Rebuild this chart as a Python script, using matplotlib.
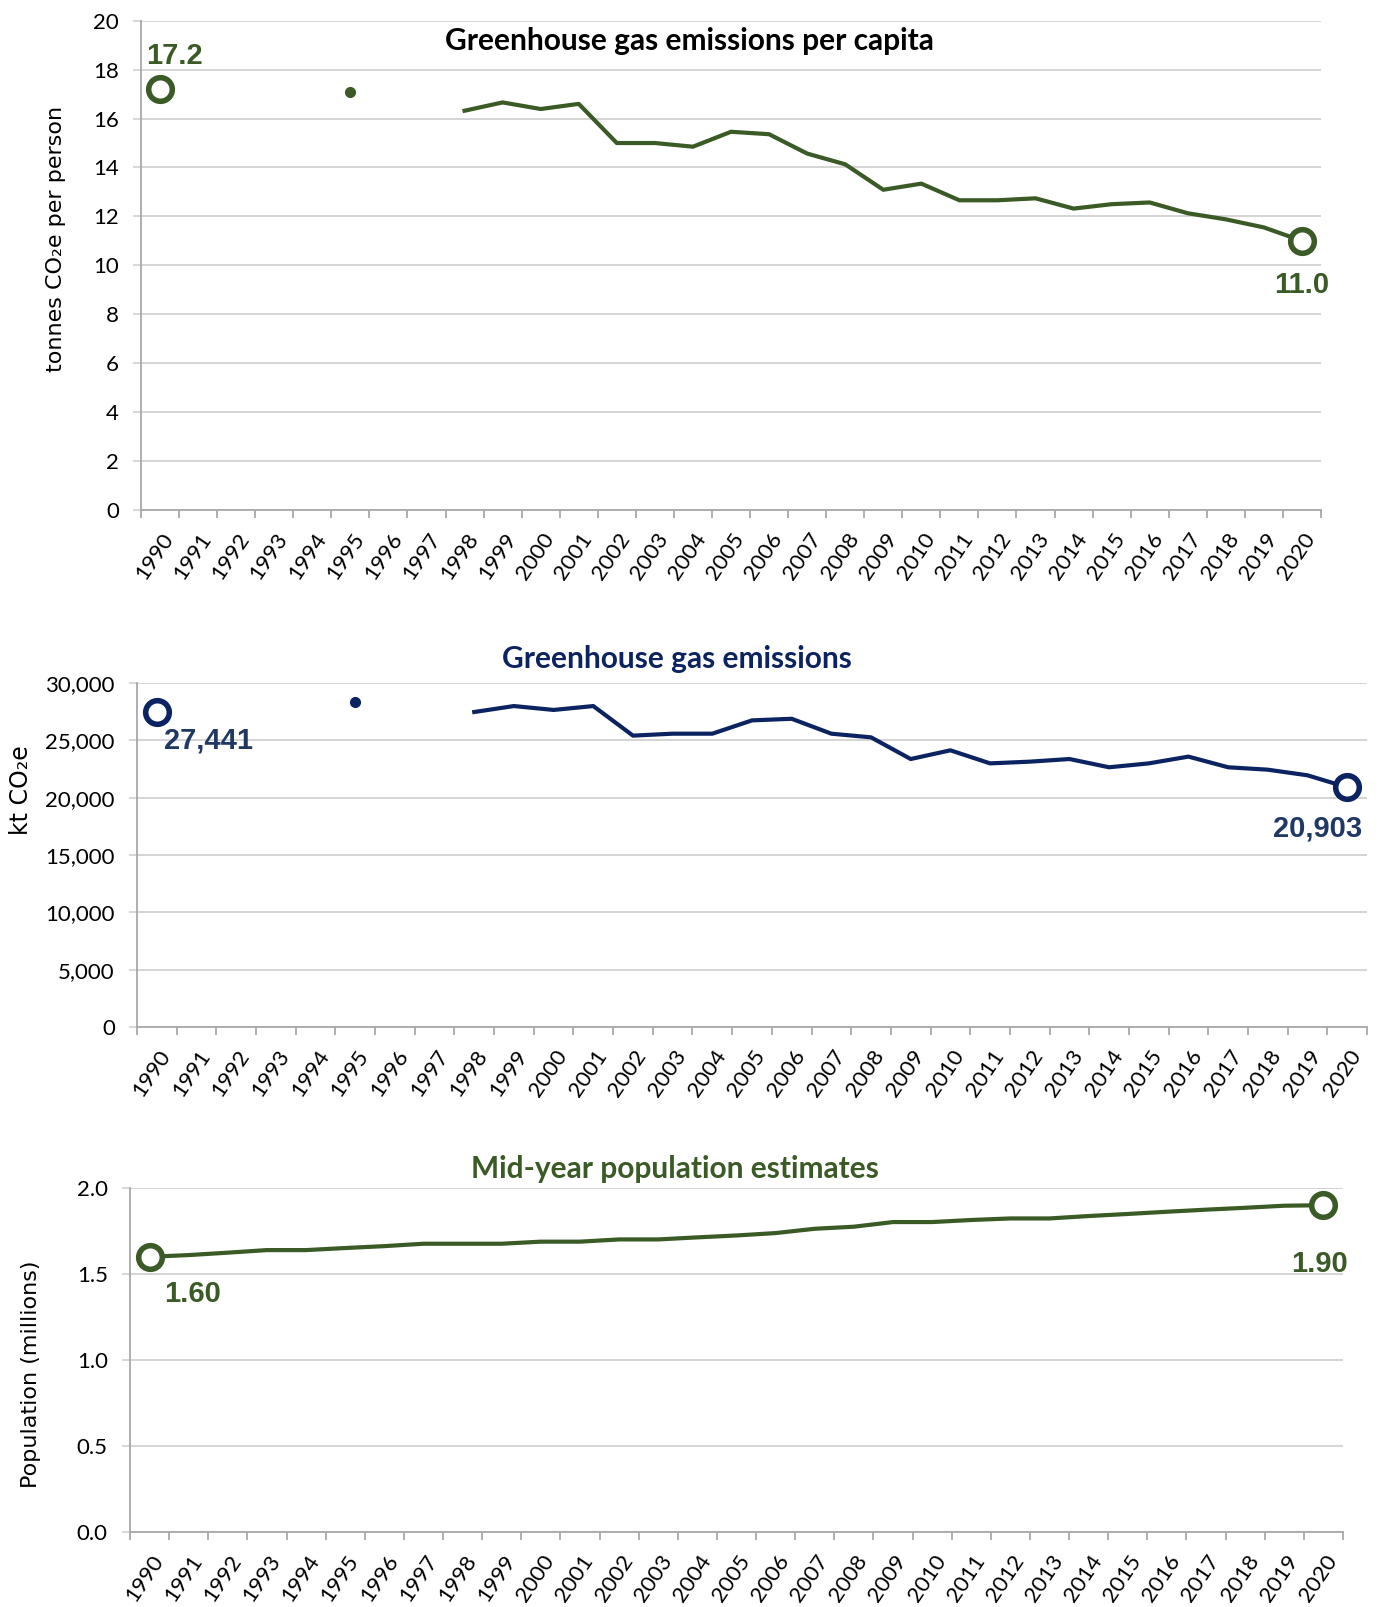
import numpy as np
import matplotlib
matplotlib.use("Agg")
from matplotlib import pyplot as plt
from matplotlib.transforms import ScaledTranslation

nan = np.nan

years = [str(y) for y in range(1990, 2021)]

# tonnes CO2e per person
ghg_per_capita = [17.2, nan, nan, nan, nan, 17.1, nan, nan, 16.32, 16.66,
                  16.39, 16.6, 15.0, 15.0, 14.85, 15.46, 15.36, 14.57, 14.13, 13.09,
                  13.34, 12.66, 12.66, 12.74, 12.32, 12.5, 12.57, 12.13, 11.88, 11.55,
                  11.0]

# kt CO2e
ghg_total = [27441, nan, nan, nan, nan, 28370, nan, nan, 27470, 27990,
             27650, 27990, 25410, 25580, 25580, 26740, 26880, 25580, 25260, 23370,
             24130, 22990, 23140, 23370, 22650, 22990, 23580, 22650, 22440, 21950,
             20903]

# millions
population = [1.60, 1.61, 1.624, 1.639, 1.639, 1.651, 1.662, 1.676, 1.676, 1.676,
              1.688, 1.688, 1.701, 1.701, 1.713, 1.724, 1.738, 1.763, 1.775, 1.802,
              1.802, 1.814, 1.823, 1.823, 1.837, 1.849, 1.862, 1.874, 1.885, 1.897,
              1.90]

GREEN = "#3a5a26"
NAVY = "#0b2461"
NAVY_TXT = "#1f3864"
GRID = "#d4d4d4"
AXIS = "#a8a8a8"

W, H = 1383, 1607
DPI = 100

plt.rcParams["font.family"] = ["Lato", "DejaVu Sans"]

fig = plt.figure(figsize=(W / DPI, H / DPI), dpi=DPI)


def px_rect(left, right, top, bottom):
    return [left / W, 1 - bottom / H, (right - left) / W, (bottom - top) / H]


def panel(rect, values, line_color, text_color, ymax, ystep, tick_fmt, lab_fmt, offsets):
    ax = fig.add_axes(rect)
    vals = np.array(values, dtype=float)
    x = np.arange(len(vals))

    ax.plot(x, vals, color=line_color, lw=3, solid_joinstyle="round", zorder=3)

    # isolated years get a small dot, first and last years an open circle
    n = len(vals)
    for i in range(1, n - 1):
        if not np.isnan(vals[i]) and np.isnan(vals[i - 1]) and np.isnan(vals[i + 1]):
            ax.plot(x[i], vals[i], "o", color=line_color, ms=7, zorder=4)
    for i, (dx, dy) in zip([0, n - 1], offsets):
        ax.plot(x[i], vals[i], "o", mfc="white", mec=line_color, mew=4, ms=17, zorder=5,
                clip_on=False)
        ax.annotate(lab_fmt(vals[i]), (x[i], vals[i]), xytext=(dx, dy),
                    textcoords="offset pixels", ha="center", va="center",
                    fontsize=21, fontweight="bold", color=text_color,
                    family="Liberation Sans", zorder=6)

    ax.set_xlim(-0.5, n - 0.5)
    ax.set_ylim(0, ymax)
    yt = np.arange(0, ymax + ystep / 2, ystep)
    ax.set_yticks(yt)
    ax.set_yticklabels([tick_fmt(v) for v in yt])
    ax.grid(axis="y", color=GRID, lw=1.4)
    ax.set_axisbelow(True)

    ax.set_xticks(x)
    ax.set_xticklabels(years)
    ax.set_xticks(np.arange(-0.5, n), minor=True)
    ax.tick_params(axis="x", which="major", length=0, pad=14, labelsize=16)
    ax.tick_params(axis="x", which="minor", length=6, width=1.3, color=AXIS)
    ax.tick_params(axis="y", length=6, width=1.3, color=GRID, pad=10, labelsize=16)
    shift = ScaledTranslation(1 / DPI, 0, fig.dpi_scale_trans)
    for lab in ax.get_xticklabels():
        lab.set_rotation(56)
        lab.set_rotation_mode("anchor")
        lab.set_ha("right")
        lab.set_va("top")
        lab.set_transform(lab.get_transform() + shift)

    for s in ["top", "right"]:
        ax.spines[s].set_visible(False)
    for s in ["left", "bottom"]:
        ax.spines[s].set_color(AXIS)
        ax.spines[s].set_linewidth(1.3)
    return ax


# per capita
panel(px_rect(141, 1321, 20.7, 510), ghg_per_capita, GREEN, GREEN, 20, 2,
      lambda v: f"{v:.0f}", lambda v: f"{v:.1f}", [(14, 33), (0, -44)])
fig.text(689 / W, 1 - 41 / H, "Greenhouse gas emissions per capita", ha="center",
         va="center", fontsize=21.5, fontweight="bold", color="black")
fig.text(56 / W, 1 - 239 / H, "tonnes CO\u2082e per person", rotation=90, ha="center",
         va="center", fontsize=16, family="DejaVu Sans")

# total emissions
panel(px_rect(137, 1367, 683, 1027), ghg_total, NAVY, NAVY_TXT, 30000, 5000,
      lambda v: f"{v:,.0f}", lambda v: f"{v:,.0f}", [(52, -28), (-30, -41)])
fig.text(677 / W, 1 - 659 / H, "Greenhouse gas emissions", ha="center",
         va="center", fontsize=21.5, fontweight="bold", color=NAVY)
fig.text(21 / W, 1 - 790 / H, "kt CO\u2082e", rotation=90, ha="center",
         va="center", fontsize=17, family="DejaVu Sans")

# population
panel(px_rect(130, 1343, 1188, 1532), population, GREEN, GREEN, 2.0, 0.5,
      lambda v: f"{v:.1f}", lambda v: f"{v:.2f}", [(43, -37), (-4, -59)])
fig.text(675 / W, 1 - 1169 / H, "Mid-year population estimates", ha="center",
         va="center", fontsize=21.5, fontweight="bold", color=GREEN)
fig.text(31 / W, 1 - 1374 / H, "Population (millions)", rotation=90, ha="center",
         va="center", fontsize=16, family="DejaVu Sans")

fig.savefig("out.png", dpi=DPI, facecolor="white")
